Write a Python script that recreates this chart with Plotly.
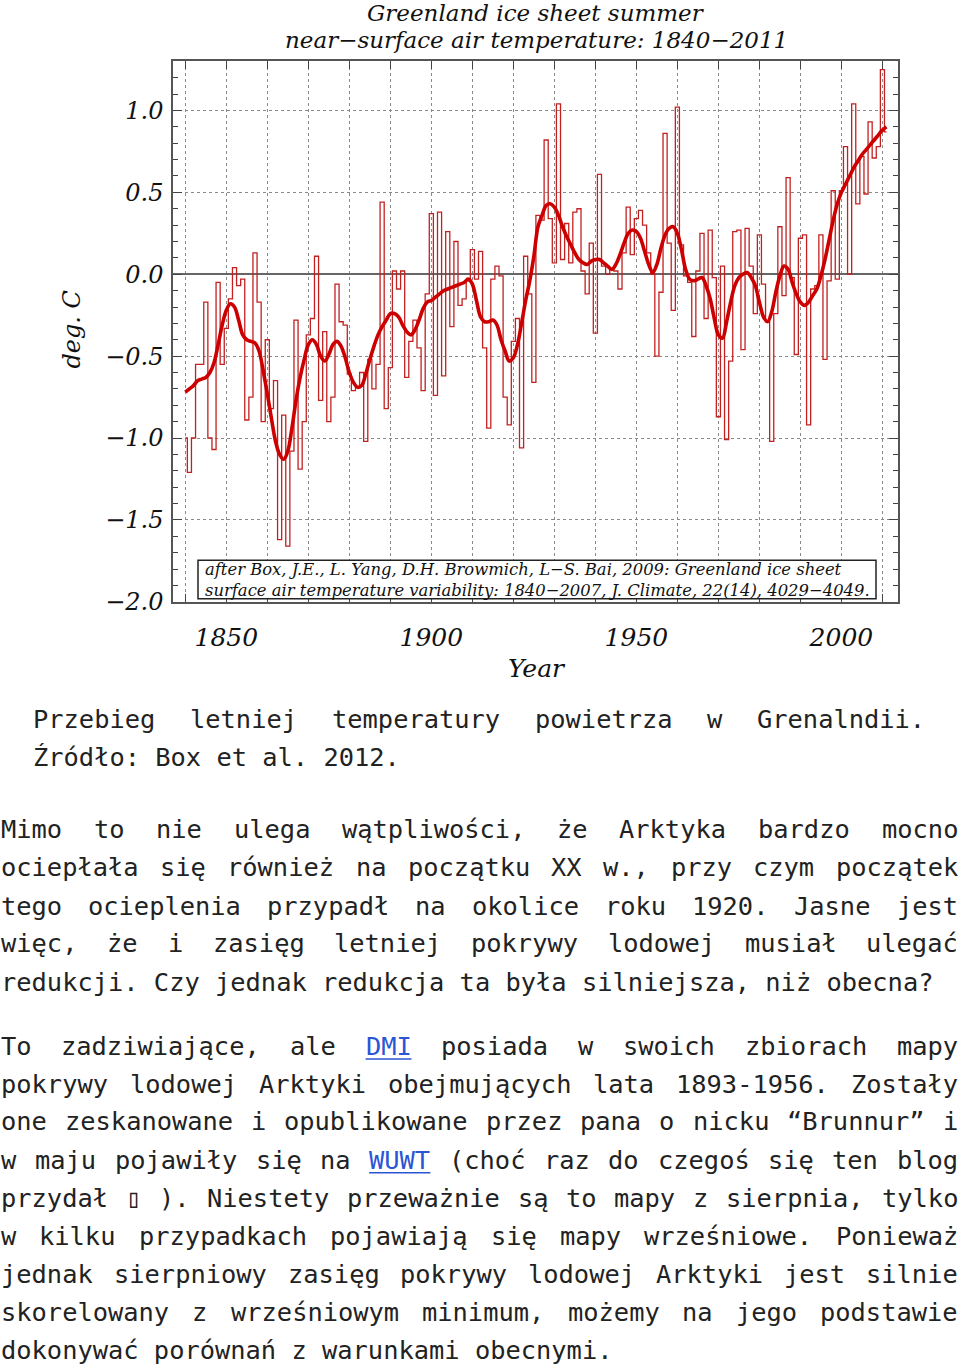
import plotly.graph_objects as go

# ---------------- data ----------------
years = list(range(1840, 2012))

temp_anomaly = [
    -1.00, -1.21, -1.00, -0.55, -0.55, -0.17, -1.00, -1.07, -0.05, -0.55,
    -0.33, -0.15, 0.04, -0.07, -0.03, -0.89, -0.75, 0.13, -0.17, -0.90,
    -0.40, -0.82, -0.65, -1.62, -0.86, -1.66, -1.08, -0.28, -1.19, -0.90,
    -0.37, -0.27, 0.11, -0.77, -0.35, -0.90, -0.75, -0.06, -0.29, -0.31,
    -0.61, -0.71, -0.69, -0.60, -1.02, -0.52, -0.70, -0.55, 0.44, -0.82,
    -0.57, 0.02, -0.09, 0.02, -0.63, -0.41, -0.28, -0.45, -0.71, -0.12,
    0.37, -0.74, 0.38, -0.62, 0.26, -0.32, 0.20, -0.19, -0.15, -0.04,
    0.15, -0.03, 0.14, -0.45, -0.94, -0.03, 0.05, -0.01, -0.75, -0.92,
    -0.41, -0.27, -1.06, 0.11, -0.12, -0.66, 0.36, 0.33, 0.82, 0.34,
    0.07, 1.04, 0.09, 0.31, 0.07, 0.38, 0.40, 0.02, -0.12, 0.19,
    -0.36, 0.61, 0.05, 0.00, 0.03, 0.02, -0.09, 0.13, 0.41, 0.12,
    0.34, 0.39, 0.30, 0.13, 0.00, -0.50, -0.11, 0.86, 0.19, -0.22,
    1.02, 0.18, -0.01, -0.05, -0.38, 0.02, 0.25, -0.27, 0.27, -0.02,
    -0.87, 0.05, -1.01, -0.53, 0.26, 0.27, -0.46, 0.28, 0.05, -0.24,
    0.24, -0.06, -0.29, -1.02, -0.24, 0.29, -0.13, 0.59, -0.02, -0.49,
    0.22, 0.24, -0.92, -0.09, -0.07, 0.24, -0.52, -0.04, 0.51, -0.03,
    0.51, 0.78, 0.00, 1.04, 0.43, 0.72, 0.49, 0.93, 0.71, 0.78,
    1.25, 0.87,
]

smoothed = [
    -0.72, -0.70, -0.68, -0.65, -0.64, -0.63, -0.60, -0.54, -0.43, -0.31,
    -0.22, -0.18, -0.20, -0.28, -0.37, -0.40, -0.41, -0.42, -0.47, -0.59,
    -0.73, -0.88, -1.02, -1.10, -1.13, -1.08, -0.94, -0.77, -0.63, -0.52,
    -0.43, -0.40, -0.43, -0.50, -0.53, -0.49, -0.43, -0.41, -0.44, -0.51,
    -0.60, -0.66, -0.69, -0.68, -0.61, -0.52, -0.44, -0.37, -0.32, -0.28,
    -0.24, -0.24, -0.26, -0.31, -0.35, -0.37, -0.34, -0.28, -0.21, -0.17,
    -0.16, -0.14, -0.12, -0.10, -0.09, -0.08, -0.07, -0.06, -0.05, -0.03,
    -0.06, -0.16, -0.26, -0.29, -0.29, -0.28, -0.31, -0.40, -0.47, -0.53,
    -0.51, -0.43, -0.30, -0.16, -0.04, 0.11, 0.29, 0.36, 0.42, 0.43,
    0.41, 0.36, 0.29, 0.23, 0.18, 0.13, 0.09, 0.07, 0.06, 0.08,
    0.09, 0.09, 0.07, 0.05, 0.03, 0.06, 0.12, 0.19, 0.25, 0.27,
    0.26, 0.22, 0.14, 0.06, 0.01, 0.06, 0.16, 0.24, 0.28, 0.29,
    0.25, 0.15, 0.03, -0.03, -0.04, -0.03, -0.02, -0.07, -0.15, -0.27,
    -0.37, -0.39, -0.29, -0.17, -0.07, -0.02, 0.00, 0.01, -0.02, -0.07,
    -0.17, -0.26, -0.29, -0.23, -0.11, -0.01, 0.05, 0.03, -0.05, -0.12,
    -0.17, -0.19, -0.17, -0.13, -0.09, -0.01, 0.09, 0.21, 0.33, 0.43,
    0.50, 0.55, 0.60, 0.65, 0.69, 0.73, 0.76, 0.79, 0.82, 0.85,
    0.88, 0.90,
]

x_tick_years = list(range(1840, 2011, 10))
x_tick_labels = [str(y) if y % 50 == 0 else "" for y in x_tick_years]
y_tick_vals = [-2.0, -1.5, -1.0, -0.5, 0.0, 0.5, 1.0]
y_tick_labels = ["\u22122.0", "\u22121.5", "\u22121.0", "\u22120.5", "0.0", "0.5", "1.0"]

title_lines = ["Greenland ice sheet summer",
               "near\u2212surface air temperature: 1840\u22122011"]
note_lines = ["after Box, J.E., L. Yang, D.H. Browmich, L\u2212S. Bai, 2009: Greenland ice sheet",
              "surface air temperature variability: 1840\u22122007, J. Climate, 22(14), 4029\u22124049."]

caption_lines = [("Przebieg letniej temperatury powietrza w Grenalndii.", True),
                 ("\u0179r\u00f3d\u0142o: Box et al. 2012.", False)]
para1 = [("Mimo to nie ulega wątpliwości, że Arktyka bardzo mocno", True),
         ("ociepłała się również na początku XX w., przy czym początek", True),
         ("tego ocieplenia przypadł na okolice roku 1920. Jasne jest", True),
         ("więc, że i zasięg letniej pokrywy lodowej musiał ulegać", True),
         ("redukcji. Czy jednak redukcja ta była silniejsza, niż obecna?", False)]
para2 = [("To zadziwiające, ale DMI posiada w swoich zbiorach mapy", True),
         ("pokrywy lodowej Arktyki obejmujących lata 1893-1956. Zostały", True),
         ("one zeskanowane i opublikowane przez pana o nicku \u201cBrunnur\u201d i", True),
         ("w maju pojawiły się na WUWT (choć raz do czegoś się ten blog", True),
         ("przydał \u25af ). Niestety przeważnie są to mapy z sierpnia, tylko", True),
         ("w kilku przypadkach pojawiają się mapy wrześniowe. Ponieważ", True),
         ("jednak sierpniowy zasięg pokrywy lodowej Arktyki jest silnie", True),
         ("skorelowany z wrześniowym minimum, możemy na jego podstawie", True),
         ("dokonywać porównań z warunkami obecnymi.", False)]
link_words = ["DMI", "WUWT"]

# ---------------- layout helpers ----------------
W, H = 960, 1368
def px(x):
    return x / W
def py(y):
    return 1 - y / H

PLOT_L, PLOT_R, PLOT_T, PLOT_B = 173, 898, 62, 608
RED_STEP = "#c42020"
RED_SMOOTH = "#cc0000"
SERIF = "DejaVu Serif"
MONO = "DejaVu Sans Mono"
BODY_SIZE = 25.4
ADV = 0.6021 * BODY_SIZE
TEXT_COL = "#222222"
LINK_COL = "#2a55d4"

fig = go.Figure()

fig.add_trace(go.Scatter(
    x=years, y=temp_anomaly, mode="lines",
    line=dict(shape="hvh", color=RED_STEP, width=1.3),
    hoverinfo="x+y"))
fig.add_trace(go.Scatter(
    x=years, y=smoothed, mode="lines",
    line=dict(shape="spline", color=RED_SMOOTH, width=3.6),
    hoverinfo="x+y"))

fig.update_xaxes(
    domain=[px(PLOT_L), px(PLOT_R)],
    range=[1837.0, 2013.8],
    tickmode="array", tickvals=x_tick_years, ticktext=x_tick_labels,
    ticks="inside", ticklen=8, tickcolor="#444", tickwidth=1,
    showgrid=True, gridcolor="#8a8a8a", griddash="dot", gridwidth=1,
    showline=True, linecolor="#555", linewidth=1.5, mirror="ticks",
    zeroline=False, tickfont=dict(family=SERIF, size=25, color="#111", style="italic"),
    ticklabelstandoff=12,
    anchor="y",
)
fig.update_yaxes(
    domain=[py(PLOT_B), py(PLOT_T)],
    range=[-2.0, 1.3],
    tickmode="array", tickvals=y_tick_vals, ticktext=y_tick_labels,
    ticks="inside", ticklen=9, tickcolor="#444", tickwidth=1,
    minor=dict(dtick=0.1, tick0=0, ticks="inside", ticklen=5, tickcolor="#444", showgrid=False),
    showgrid=True, gridcolor="#8a8a8a", griddash="dot", gridwidth=1,
    showline=True, linecolor="#555", linewidth=1.5, mirror="ticks",
    zeroline=True, zerolinecolor="#666", zerolinewidth=1.5,
    tickfont=dict(family=SERIF, size=24, color="#111", style="italic"),
    ticklabelstandoff=3,
    anchor="x",
)

annotations = []
shapes = []

# titles
annotations.append(dict(x=px(536), y=py(0), xref="paper", yref="paper",
                        text=title_lines[0], showarrow=False, xanchor="center", yanchor="top",
                        borderpad=0, borderwidth=0,
                        font=dict(family=SERIF, size=23, color="#111", style="italic")))
annotations.append(dict(x=px(536), y=py(27.5), xref="paper", yref="paper",
                        text=title_lines[1], showarrow=False, xanchor="center", yanchor="top",
                        borderpad=0, borderwidth=0,
                        font=dict(family=SERIF, size=23, color="#111", style="italic")))
# axis titles
annotations.append(dict(x=px(537), y=py(675), xref="paper", yref="paper", text="Year",
                        showarrow=False, xanchor="center", yanchor="middle",
                        font=dict(family=SERIF, size=25, color="#111", style="italic")))
annotations.append(dict(x=px(72), y=py(333), xref="paper", yref="paper", text="deg. C",
                        showarrow=False, xanchor="center", yanchor="middle", textangle=-90,
                        font=dict(family=SERIF, size=24, color="#111", style="italic")))

# citation box
shapes.append(dict(type="rect", xref="paper", yref="paper",
                   x0=px(198), x1=px(876), y0=py(605), y1=py(566),
                   fillcolor="white", line=dict(color="#222", width=1.5), layer="above"))
annotations.append(dict(x=px(205), y=py(586), xref="paper", yref="paper",
                        text="<br>".join(note_lines),
                        showarrow=False, xanchor="left", yanchor="middle", align="left",
                        borderpad=0, borderwidth=0,
                        font=dict(family=SERIF, size=16.4, color="#111", style="italic")))

# body text
def place_line(text, justify, left, right, cy):
    words = text.split(" ")
    if justify and len(words) > 1:
        total = sum(len(w) for w in words) * ADV
        gap = (right - left - total) / (len(words) - 1)
        x = left
        for w in words:
            col = LINK_COL if w in link_words else TEXT_COL
            annotations.append(dict(x=px(x), y=py(cy), xref="paper", yref="paper", text=w,
                                    showarrow=False, xanchor="left", yanchor="middle",
                                    borderpad=0, borderwidth=0,
                                    font=dict(family=MONO, size=BODY_SIZE, color=col)))
            if w in link_words:
                shapes.append(dict(type="line", xref="paper", yref="paper",
                                   x0=px(x), x1=px(x + len(w) * ADV),
                                   y0=py(cy + 13), y1=py(cy + 13),
                                   line=dict(color=LINK_COL, width=1.5)))
            x += len(w) * ADV + gap
    else:
        annotations.append(dict(x=px(left), y=py(cy), xref="paper", yref="paper", text=text,
                                showarrow=False, xanchor="left", yanchor="middle",
                                borderpad=0, borderwidth=0,
                                font=dict(family=MONO, size=BODY_SIZE, color=TEXT_COL)))

for (t, j), cy in zip(caption_lines, [726, 765]):
    place_line(t, j, 33, 925, cy)
for (t, j), cy in zip(para1, [838, 876, 915, 953, 992]):
    place_line(t, j, 1, 958, cy)
for (t, j), cy in zip(para2, [1057, 1095, 1133, 1172, 1210, 1249, 1287, 1326, 1364]):
    place_line(t, j, 1, 958, cy)

fig.update_layout(
    width=W, height=H,
    margin=dict(l=0, r=0, t=0, b=0),
    paper_bgcolor="white", plot_bgcolor="white",
    showlegend=False,
    annotations=annotations,
    shapes=shapes,
)

fig.write_html("out.html", config={"displayModeBar": False})
